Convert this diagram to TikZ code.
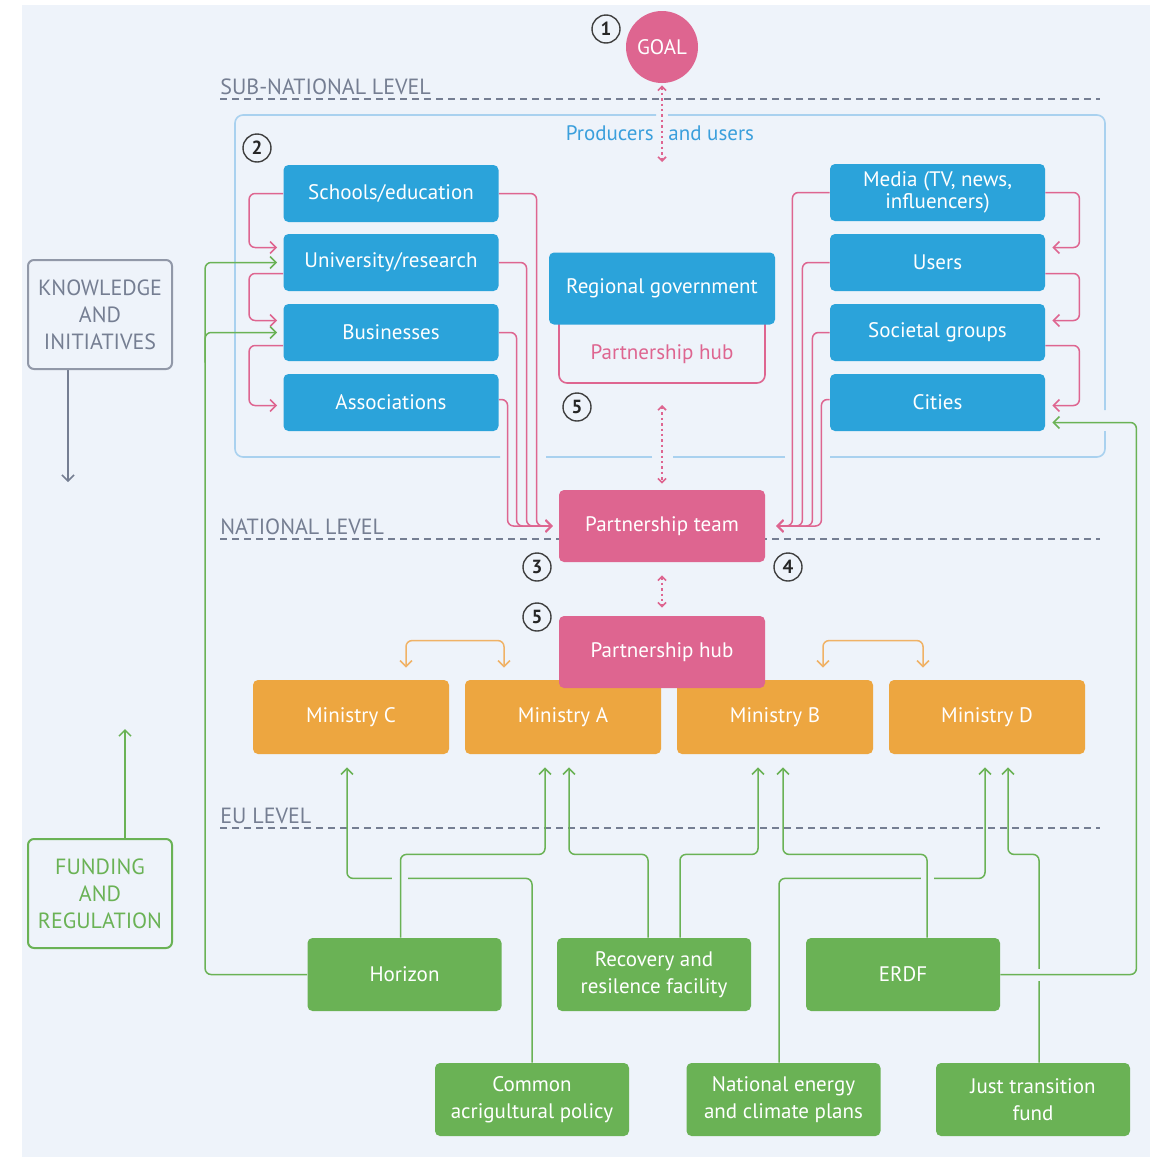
\documentclass[tikz,border=0pt]{standalone}
\usepackage{fontspec}
\setmainfont{PT Sans}
\usetikzlibrary{arrows.meta,calc,backgrounds}
\definecolor{bgc}{HTML}{EEF3FA}
\definecolor{cblue}{HTML}{2BA3DA}
\definecolor{cpink}{HTML}{DE6590}
\definecolor{corange}{HTML}{EDA640}
\definecolor{lorange}{HTML}{F0B266}
\definecolor{cgreen}{HTML}{6AB255}
\definecolor{cgray}{HTML}{757E92}
\definecolor{cframe}{HTML}{A9D1EF}
\definecolor{ctext}{HTML}{3A9FDC}

\begin{document}
\begin{tikzpicture}[x=0.5pt, y=-0.5pt, >={Straight Barb[length=3pt,width=6pt]},
	box/.style={rectangle, rounded corners=2.5pt, inner sep=0pt, text=white, align=center, font=\fontsize{10.5}{11.5}\selectfont},
	bluebox/.style={box, fill=cblue, minimum width=107.5pt, minimum height=28.5pt},
	pinkbox/.style={box, fill=cpink, minimum width=103pt, minimum height=36pt},
	minbox/.style={box, fill=corange, minimum width=98pt, minimum height=37pt},
	fundbox/.style={box, fill=cgreen, minimum width=97pt, minimum height=36.5pt, font=\fontsize{10.5}{13.5}\selectfont},
	sidebox/.style={rectangle, rounded corners=3pt, line width=1pt, minimum width=72pt, minimum height=54.5pt, align=center, font=\fontsize{11}{13.5}\selectfont},
	numc/.style={circle, draw=black!75, line width=0.7pt, minimum size=14pt, inner sep=0pt, text=black!85, font=\fontsize{9.5}{9.5}\selectfont\bfseries},
	level/.style={anchor=base west, inner sep=0pt, text=cgray, font=\fontsize{11}{12}\selectfont},
	levelline/.style={draw=cgray, line width=0.6pt, dash pattern=on 3.5pt off 2.5pt},
	frame/.style={draw=cframe, line width=0.8pt, rounded corners=4pt},
	pinkl/.style={draw=cpink, line width=0.75pt, rounded corners=3pt, ->},
	greenl/.style={draw=cgreen, line width=0.75pt, rounded corners=3pt, ->},
	orangel/.style={draw=lorange, line width=0.75pt, rounded corners=3pt, <->},
	dotarrow/.style={draw=cpink, line width=0.8pt, dash pattern=on 1.2pt off 1.5pt, {Straight Barb[length=2pt,width=4pt]}-{Straight Barb[length=2pt,width=4pt]}}
]
	\useasboundingbox (0,0) rectangle (1150,1157);

	\node[circle, fill=cpink, minimum size=36pt, inner sep=0pt, text=white, font=\fontsize{10.5}{10.5}\selectfont] (goal) at (662,47) {GOAL};
	\node[numc] (n1) at (606,29) {1};
	\node[numc] (n2) at (257,148) {2};
	\node[numc] (n5a) at (577,407) {5};
	\node[numc] (n3) at (537,567) {3};
	\node[numc] (n4) at (788,567) {4};
	\node[numc] (n5b) at (537,617) {5};

	\node[anchor=base east, inner sep=0pt, text=ctext, font=\fontsize{10.5}{12}\selectfont] (prod) at (654,140) {Producers};
	\node[anchor=base west, inner sep=0pt, text=ctext, font=\fontsize{10.5}{12}\selectfont] (users) at (668,140) {and users};

	\node[bluebox] (school) at (391,193.5) {Schools/education};
	\node[bluebox] (univ) at (391,262.5) {University/research};
	\node[bluebox] (busi) at (391,332.5) {Businesses};
	\node[bluebox] (assoc) at (391,402.5) {Associations};

	\node[bluebox, font=\fontsize{10.5}{11}\selectfont] (media) at (937.5,192.5) {Media (TV, news,\\influencers)};
	\node[bluebox] (user) at (937.5,262.5) {Users};
	\node[bluebox] (soc) at (937.5,332.5) {Societal groups};
	\node[bluebox] (cities) at (937.5,402.5) {Cities};

	\draw[draw=cpink, line width=0.8pt, rounded corners=4pt] (559,315) |- (765,383) -- (765,315);
	\node[inner sep=0pt, text=cpink, font=\fontsize{10.5}{12}\selectfont] (hubtop) at (662,354) {Partnership hub};
	\node[bluebox, minimum width=113pt, minimum height=36pt] (regional) at (662,288.5) {Regional government};

	\node[pinkbox] (team) at (662,526) {Partnership team};

	\node[minbox] (minC) at (351,717) {Ministry C};
	\node[minbox] (minA) at (563,717) {Ministry A};
	\node[minbox] (minB) at (775,717) {Ministry B};
	\node[minbox] (minD) at (987,717) {Ministry D};
	\node[pinkbox] (hub) at (662,652) {Partnership hub};

	\node[fundbox] (horizon) at (404.5,974.5) {Horizon};
	\node[fundbox] (rrf) at (654,974.5) {Recovery and\\resilence facility};
	\node[fundbox] (erdf) at (903,974.5) {ERDF};
	\node[fundbox] (cap) at (532,1099.5) {Common\\acrigultural policy};
	\node[fundbox] (necp) at (783.5,1099.5) {National energy\\and climate plans};
	\node[fundbox] (jtf) at (1033,1099.5) {Just transition\\fund};

	\node[sidebox, draw=cgray!80, text=cgray] (know) at (100,314.5) {KNOWLEDGE\\AND\\INITIATIVES};
	\node[sidebox, draw=cgreen, text=cgreen] (fund) at (100,893.5) {FUNDING\\AND\\REGULATION};
	\coordinate (knowend) at (68,482);
	\coordinate (fundend) at (125,729);
	\coordinate (goalend) at (662,162);
	\coordinate (hubbot) at (662,405);

	\node[level] (lsub) at (220,94) {SUB-NATIONAL LEVEL};
	\node[level] (lnat) at (220,534) {NATIONAL LEVEL};
	\node[level] (leu) at (220,823) {EU LEVEL};

	\begin{pgfonlayer}{background}
		\fill[white] (0,0) rectangle (1150,1157);
		\fill[bgc] (22,5) rectangle (1150,1157);
		\draw[levelline] (220,99) -- (1100,99);
		\draw[levelline] (220,539) -- (1100,539);
		\draw[levelline] (220,828) -- (1100,828);

		\draw[frame] (668,115) -- (1105,115) -- (1105,410);
		\draw[frame] (1105,431) -- (1105,457) -- (830,457);
		\draw[frame] (785,457) -- (673,457);
		\draw[frame] (652,457) -- (546,457);
		\draw[frame] (500,457) -- (235,457) -- (235,115) -- (656,115);

		\draw[dotarrow] ($(goal.south)+(0,2)$) -- (goalend);
		\draw[dotarrow] (hubbot) -- ($(team.north)+(0,-6)$);
		\draw[dotarrow] ($(team.south)+(0,13)$) -- ($(hub.north)+(0,-8)$);

		\draw[pinkl] (school.west) -- ++(-34,0) |- ($(univ.west)+(-6,-15)$);
		\draw[pinkl] ($(univ.west)+(0,11)$) -- ++(-34,0) |- ($(busi.west)+(-6,-12)$);
		\draw[pinkl] ($(busi.west)+(0,13)$) -- ++(-34,0) |- ($(assoc.west)+(-6,3)$);
		\draw[pinkl] (school.east) -| ($(team.west)+(-22,0)$) -- ($(team.west)+(-6,0)$);
		\draw[pinkl] (univ.east) -| ($(team.west)+(-32,0)$) -- ($(team.west)+(-6,0)$);
		\draw[pinkl] (busi.east) -| ($(team.west)+(-42,0)$) -- ($(team.west)+(-6,0)$);
		\draw[pinkl] ($(assoc.east)+(0,-3)$) -| ($(team.west)+(-51,0)$) -- ($(team.west)+(-6,0)$);

		\draw[pinkl] (media.east) -- ++(34,0) |- ($(user.east)+(7,-15)$);
		\draw[pinkl] ($(user.east)+(0,11)$) -- ++(34,0) |- ($(soc.east)+(7,-12)$);
		\draw[pinkl] ($(soc.east)+(0,13)$) -- ++(34,0) |- ($(cities.east)+(7,3)$);
		\draw[pinkl] (media.west) -| ($(team.east)+(27,0)$) -- ($(team.east)+(11,0)$);
		\draw[pinkl] (user.west) -| ($(team.east)+(37,0)$) -- ($(team.east)+(11,0)$);
		\draw[pinkl] (soc.west) -| ($(team.east)+(47,0)$) -- ($(team.east)+(11,0)$);
		\draw[pinkl] ($(cities.west)+(0,-3)$) -| ($(team.east)+(56,0)$) -- ($(team.east)+(11,0)$);

		\draw[orangel] ($(minC.north)+(55,-12)$) -- ($(minC.north)+(55,-39)$) -| ($(minA.north)+(-59,-12)$);
		\draw[orangel] ($(minB.north)+(48,-12)$) -- ($(minB.north)+(48,-39)$) -| ($(minD.north)+(-64,-12)$);

		\draw[greenl] (cap.north) |- ($(minC.south)+(-4,124)$) -- ($(minC.south)+(-4,13)$);
		\draw[greenl] ($(necp.north)+(-4.5,0)$) |- ($(minD.south)+(-2,124)$) -- ($(minD.south)+(-2,13)$);
		\draw[greenl] ($(jtf.north)+(6,0)$) |- ($(minD.south)+(21,100)$) -- ($(minD.south)+(21,13)$);
		\fill[bgc] (392,871) rectangle (408,885);
		\fill[bgc] (921,871) rectangle (934,885);
		\fill[bgc] (1032,969) rectangle (1046,981);
		\draw[greenl] ($(horizon.north)+(-4,0)$) |- ($(minA.south)+(-18,100)$) -- ($(minA.south)+(-18,13)$);
		\draw[greenl] ($(rrf.north)+(-6,0)$) |- ($(minA.south)+(6,100)$) -- ($(minA.south)+(6,13)$);
		\draw[greenl] ($(rrf.north)+(26,0)$) |- ($(minB.south)+(-17,100)$) -- ($(minB.south)+(-17,13)$);
		\draw[greenl] ($(erdf.north)+(24,0)$) |- ($(minB.south)+(8,100)$) -- ($(minB.south)+(8,13)$);
		\draw[greenl] (erdf.east) -| ($(cities.east)+(91,20)$) -- ($(cities.east)+(7,20)$);
		\draw[greenl] (horizon.west) -| ($(univ.west)+(-78,0)$) -- ($(univ.west)+(-6,0)$);
		\draw[greenl] ($(busi.west)+(-78,30)$) |- ($(busi.west)+(-6,0)$);

		\draw[draw=cgray, line width=0.75pt, ->] ($(know.south)+(-32,0)$) -- (knowend);
		\draw[greenl] ($(fund.north)+(25,0)$) -- (fundend);
	\end{pgfonlayer}
\end{tikzpicture}
\end{document}
